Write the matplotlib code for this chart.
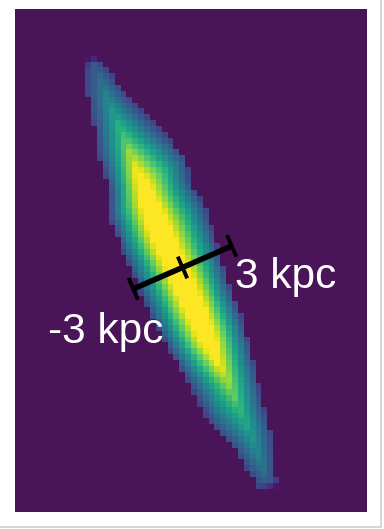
import numpy as np
import matplotlib
matplotlib.use("Agg")
import matplotlib.pyplot as plt
from matplotlib.lines import Line2D
from matplotlib.colors import ListedColormap, to_rgba

# ---- data (kpc, colour scale 0..1, clipped above 1) ----
# stations along the major axis (positive = towards the upper-left end)
u_stations  = [-13.4, -12.85, -11.89, -10.41, -8.58, -6.78, -4.22, -1.9, 2.58,
               4.25, 5.41, 6.61, 7.79, 9.06, 10.29, 11.38, 12.37, 12.9]
ridge_level = [0.0, 0.30, 0.42, 0.53, 0.68, 0.88, 1.22, 1.24, 1.24,
               1.16, 1.10, 0.93, 0.76, 0.60, 0.48, 0.38, 0.28, 0.0]
ridge_v     = [-0.45, -0.45, -0.33, -0.25, -0.23, -0.20, -0.30, -0.30, -0.40,
               -0.30, -0.20, -0.15, -0.10, -0.12, -0.12, 0.0, -0.05, -0.05]
edge_left   = [0.45, 0.56, 0.87, 1.15, 1.85, 2.00, 2.20, 2.40, 2.30,
               2.35, 1.90, 1.72, 1.72, 1.30, 1.05, 0.90, 0.42, 0.40]
edge_right  = [0.45, 0.56, 0.77, 1.15, 1.33, 1.68, 2.20, 2.35, 2.90,
               2.60, 2.85, 2.45, 1.95, 1.45, 1.05, 0.65, 0.40, 0.40]
edge_level = 0.2              # colour of the outermost (faintest) cells
position_angle = 23.5         # deg from vertical
n_cols, n_rows = 60, 86
extent = [-9.36, 10.31, -13.66, 14.44]   # kpc

bar_ticks = [-3, 0, 3]
bar_labels = ["-3 kpc", "3 kpc"]

# ---- colormap: viridis with the observed background purple at the low end ----
base = plt.get_cmap("viridis")(np.linspace(0, 1, 256))
bg = np.array(to_rgba("#4a1558"))
nblend = 16
for i in range(nblend):
    w = i / nblend
    base[i] = (1 - w) * bg + w * base[nblend]
cmap = ListedColormap(base)

# ---- build image ----
left, right, bottom, top = extent
dx = (right - left) / n_cols
dy = (top - bottom) / n_rows
xs = left + (np.arange(n_cols) + 0.5) * dx
ys = top - (np.arange(n_rows) + 0.5) * dy
X, Y = np.meshgrid(xs, ys)
th = np.deg2rad(position_angle)
U = -X * np.sin(th) + Y * np.cos(th)
V = X * np.cos(th) + Y * np.sin(th)
pk = np.interp(U, u_stations, ridge_level, left=0, right=0)
vc = np.interp(U, u_stations, ridge_v)
el = np.interp(U, u_stations, edge_left)
er = np.interp(U, u_stations, edge_right)
dv = V - vc
e = np.where(dv < 0, el, er)
fl = np.minimum(edge_level, 0.7 * pk)
frac = 1 - np.abs(dv) / e
img = np.where((frac > 0) & (pk > 0), fl + (pk - fl) * frac, 0.0)

fig = plt.figure(figsize=(3.84, 5.29), dpi=100)
ax = fig.add_axes([15 / 384, (529 - 512) / 529, 352 / 384, 503 / 529])
ax.imshow(img, cmap=cmap, vmin=0, vmax=1, extent=extent,
          origin="upper", interpolation="nearest", aspect="auto")
ax.set_xlim(left, right)
ax.set_ylim(bottom, top)
ax.axis("off")

def pt(u, v):
    return (-u * np.sin(th) + v * np.cos(th), u * np.cos(th) + v * np.sin(th))

p0 = pt(0, bar_ticks[0])
p1 = pt(0, bar_ticks[-1])
ax.plot([p0[0], p1[0]], [p0[1], p1[1]], color="black", lw=4.0,
        solid_capstyle="butt")
for t in bar_ticks:
    a = pt(-0.66, t)
    b = pt(0.66, t)
    ax.plot([a[0], b[0]], [a[1], b[1]], color="black", lw=2.8,
            solid_capstyle="butt")

font = dict(family=["Liberation Sans", "DejaVu Sans"], size=30.5, color="white")
ax.text(2.93, -1.15, bar_labels[1], ha="left", va="baseline", **font)
ax.text(-7.51, -4.22, bar_labels[0], ha="left", va="baseline", **font)

# light frame on the right and bottom
fig.add_artist(Line2D([380.5 / 384, 380.5 / 384], [2 / 529, 1], color="#d6d6d6",
                      lw=1.5, transform=fig.transFigure))
fig.add_artist(Line2D([0, 381 / 384], [2.5 / 529, 2.5 / 529], color="#d6d6d6",
                      lw=1.5, transform=fig.transFigure))

fig.savefig("out.png", dpi=100)
